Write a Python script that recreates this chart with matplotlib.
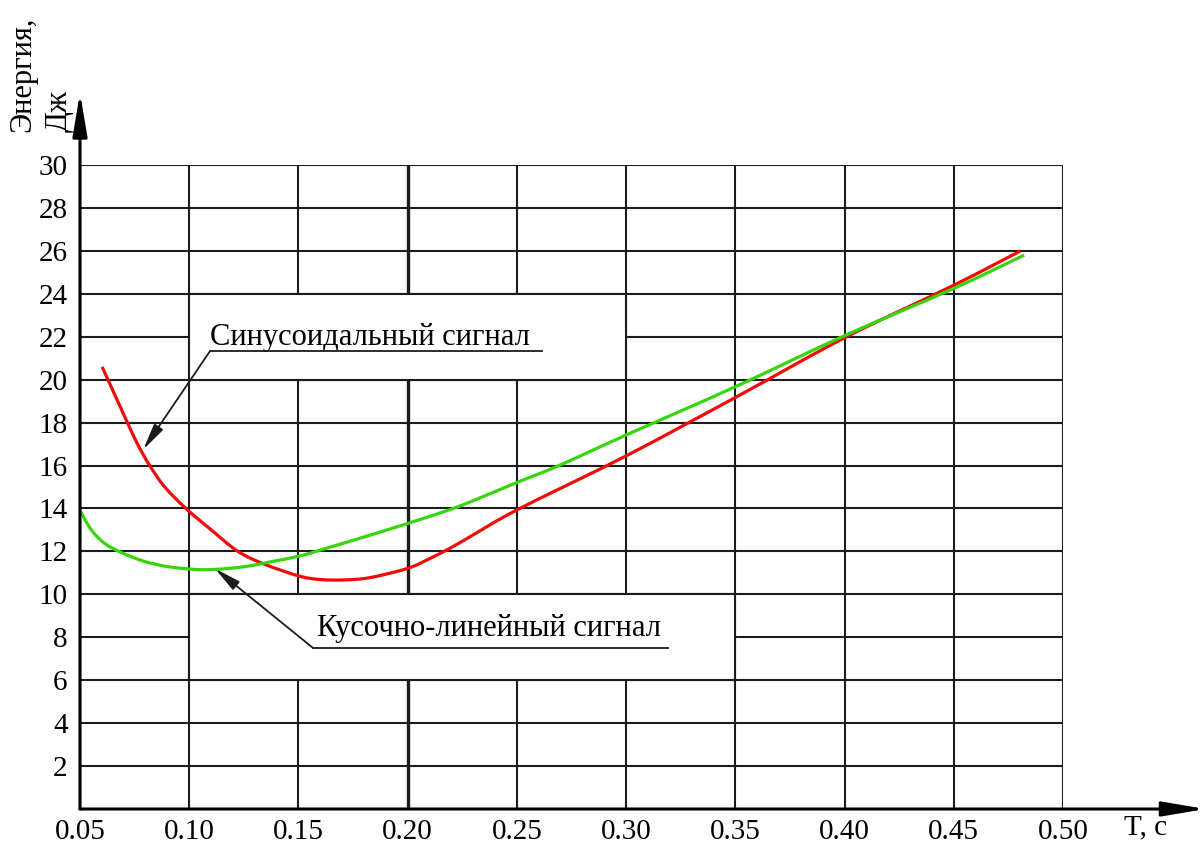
import matplotlib
matplotlib.use("Agg")
import numpy as np
import matplotlib.pyplot as plt
from matplotlib.patches import Rectangle, PathPatch
from matplotlib.path import Path

plt.rcParams['font.family'] = ['Liberation Serif', 'DejaVu Serif']

# energy vs period, sinusoidal signal
t_sin = [0.0601, 0.0628, 0.0717, 0.0766, 0.0819, 0.0888, 0.0987, 0.1101, 0.1223,
         0.1345, 0.1504, 0.1599, 0.1705, 0.1828, 0.2000, 0.2102, 0.2194, 0.2285,
         0.2500, 0.3000, 0.3500, 0.4000, 0.4500, 0.4806]
e_sin = [20.60, 20.00, 18.00, 16.95, 16.00, 15.00, 13.98, 13.00, 12.00,
         11.40, 10.85, 10.69, 10.67, 10.78, 11.21, 11.67, 12.15, 12.68,
         13.93, 16.45, 19.17, 21.95, 24.40, 26.00]

# energy vs period, piecewise-linear signal
t_pwl = [0.0500, 0.0552, 0.0613, 0.0689, 0.0796, 0.0903, 0.1025, 0.1117, 0.1254,
         0.1370, 0.1504, 0.1599, 0.1751, 0.2000, 0.2194, 0.2285, 0.2500, 0.2697,
         0.3000, 0.3500, 0.4000, 0.4500, 0.4822]
e_pwl = [13.90, 13.00, 12.37, 11.95, 11.53, 11.29, 11.16, 11.16, 11.29,
         11.51, 11.78, 12.06, 12.52, 13.30, 13.95, 14.30, 15.21, 16.02,
         17.42, 19.67, 22.05, 24.25, 25.80]

x_ticks = [0.05, 0.10, 0.15, 0.20, 0.25, 0.30, 0.35, 0.40, 0.45, 0.50]
x_tick_labels = ['0.05', '0.10', '0.15', '0.20', '0.25', '0.30', '0.35', '0.40', '0.45', '0.50']
y_ticks = [2, 4, 6, 8, 10, 12, 14, 16, 18, 20, 22, 24, 26, 28, 30]

label_sin = 'Синусоидальный сигнал'
label_pwl = 'Кусочно-линейный сигнал'

W, H = 1203, 843
ink = '#1c1c1c'


def smooth_path(xs, ys):
    # Catmull-Rom through the points, written as cubic Bezier segments
    p = np.column_stack([xs, ys])
    p = np.vstack([p[0], p, p[-1]])
    verts = [p[1]]
    codes = [Path.MOVETO]
    for i in range(1, len(p) - 2):
        c1 = p[i] + (p[i + 1] - p[i - 1]) / 6
        c2 = p[i + 1] - (p[i + 2] - p[i]) / 6
        verts += [c1, c2, p[i + 1]]
        codes += [Path.CURVE4] * 3
    return Path(verts, codes)


fig = plt.figure(figsize=(W / 100, H / 100), dpi=100)
ax = fig.add_axes([80 / W, 34 / H, 983 / W, 644 / H])
ax.set_xlim(0.05, 0.50)
ax.set_ylim(0, 30)
for s in ax.spines.values():
    s.set_visible(False)

ax.set_xticks(x_ticks)
ax.set_xticklabels(x_tick_labels)
ax.set_yticks(y_ticks)
ax.tick_params(length=0, labelsize=21, colors='black')
ax.tick_params(axis='x', pad=7)
ax.tick_params(axis='y', pad=9)
ax.set_axisbelow(True)
ax.grid(True, color=ink, lw=1.5)
for v, gl in zip(x_ticks, ax.get_xgridlines()):
    if abs(v - 0.20) < 1e-9:
        gl.set_linewidth(2.4)

# blank panels behind the callout labels
ax.add_patch(Rectangle((0.10, 20), 0.20, 4, fc='white', ec=ink, lw=1.5, zorder=1))
ax.add_patch(Rectangle((0.10, 6), 0.25, 4, fc='white', ec=ink, lw=1.5, zorder=1))

ax.add_patch(PathPatch(smooth_path(t_sin, e_sin), fc='none', ec='#f00a0a', lw=2.3,
                       zorder=3, capstyle='butt'))
ax.add_patch(PathPatch(smooth_path(t_pwl, e_pwl), fc='none', ec='#35d60c', lw=2.3,
                       zorder=3, capstyle='butt'))

# axes with arrows
arrow_kw = dict(arrowstyle='-|>,head_length=1.3,head_width=0.22', lw=2.2, color='black',
                mutation_scale=20, shrinkA=0, shrinkB=0)
ax.annotate('', xy=(1.145, 0), xytext=(0, 0), xycoords='axes fraction',
            textcoords='axes fraction', arrowprops=arrow_kw, annotation_clip=False)
ax.annotate('', xy=(0, 1.112), xytext=(0, 0), xycoords='axes fraction',
            textcoords='axes fraction', arrowprops=arrow_kw, annotation_clip=False)

# callouts
lead_kw = dict(arrowstyle='-|>,head_length=1.0,head_width=0.2', lw=1.3, color=ink,
               mutation_scale=16, shrinkA=0, shrinkB=0)
ax.text(0.1095, 21.62, label_sin, fontsize=22, ha='left', va='baseline', zorder=4)
ax.plot([0.1095, 0.2615], [21.33, 21.33], color=ink, lw=1.3, zorder=4)
ax.annotate('', xy=(0.0790, 16.75), xytext=(0.1095, 21.33), arrowprops=lead_kw, zorder=4)

ax.text(0.1585, 8.05, label_pwl, fontsize=22, ha='left', va='baseline', zorder=4)
ax.plot([0.1567, 0.3192], [7.5, 7.5], color=ink, lw=1.3, zorder=4)
ax.annotate('', xy=(0.1118, 11.2), xytext=(0.1567, 7.5), arrowprops=lead_kw, zorder=4)

# axis titles
fig.text(8 / W, 1 - 132 / H, 'Энергия,\nДж', rotation=90, fontsize=22,
         ha='left', va='bottom', multialignment='left', linespacing=1.35)
fig.text(1146 / W, 1 - 827 / H, 'T, c', fontsize=21, ha='center', va='center')

fig.savefig('out.png', dpi=100, facecolor='white')
